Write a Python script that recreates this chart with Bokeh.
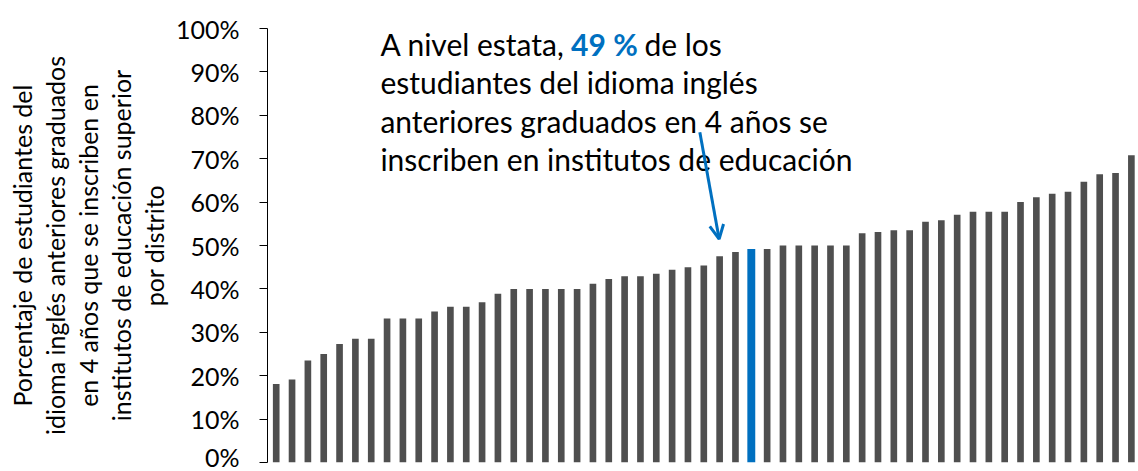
from bokeh.plotting import figure
from bokeh.models import Label, Arrow, OpenHead, FixedTicker, Range1d
from bokeh.embed import file_html
from bokeh.resources import INLINE

# Data (percent of former EL 4-year graduates enrolling, per district, sorted)
districts = list(range(55))
values = [18.1, 19.1, 23.5, 25.0, 27.3, 28.5, 28.5, 33.2, 33.2, 33.2,
          34.8, 35.9, 35.9, 36.9, 38.9, 40.0, 40.0, 40.0, 40.0, 40.0,
          41.2, 42.3, 42.9, 42.9, 43.5, 44.4, 45.0, 45.4, 47.5, 48.5,
          49.2, 49.2, 50.0, 50.0, 50.0, 50.0, 50.0, 52.8, 53.1, 53.5,
          53.5, 55.5, 55.8, 57.1, 57.8, 57.8, 57.8, 60.0, 61.1, 61.9,
          62.4, 64.7, 66.4, 66.7, 70.8]
state_index = 30
state_value = 49
y_ticks = [0, 10, 20, 30, 40, 50, 60, 70, 80, 90, 100]
y_tick_labels = {t: f"{t}%" for t in y_ticks}

GRAY = "#4F4F4F"
BLUE = "#0070C0"
FONT = "Lato"

p = figure(width=1138, height=471, output_backend="svg", toolbar_location=None,
           x_range=Range1d(-0.55, 54.45), y_range=Range1d(0, 100),
           min_border_left=267, min_border_right=0, min_border_top=28,
           min_border_bottom=9)
p.outline_line_color = None
p.xgrid.visible = False
p.ygrid.visible = False
p.xaxis.visible = False

gray_x = [d for d in districts if d != state_index]
gray_top = [v for d, v in zip(districts, values) if d != state_index]
p.vbar(x=gray_x, top=gray_top, bottom=0, width=0.42, color=GRAY, line_color=None)
p.vbar(x=[state_index], top=[values[state_index]], bottom=0, width=0.5,
       color=BLUE, line_color=None)

ya = p.yaxis[0]
ya.ticker = FixedTicker(ticks=y_ticks)
ya.major_label_overrides = y_tick_labels
ya.minor_tick_line_color = None
ya.major_tick_in = 0
ya.major_tick_out = 8
ya.axis_line_color = "black"
ya.major_tick_line_color = "black"
ya.major_label_text_font = FONT
ya.major_label_text_font_size = "25px"
ya.major_label_text_color = "black"
ya.major_label_standoff = 20
ya.axis_label = ("Porcentaje de estudiantes del\nidioma inglés anteriores graduados\n"
                 "en 4 años que se inscriben en\ninstitutos de educación superior\npor distrito")
ya.axis_label_text_font = FONT
ya.axis_label_text_font_size = "25px"
ya.axis_label_text_font_style = "normal"
ya.axis_label_text_color = "black"
ya.axis_label_standoff = 4
ya.axis_label_text_align = "center"
ya.axis_label_text_line_height = 1.1

# Annotation text
FS = "30px"
tx = 6.58
line_y = [96.5, 87.7, 78.8, 70.0]
lines = ["A nivel estata, ",
         "estudiantes del idioma inglés",
         "anteriores graduados en 4 años se",
         "inscriben en institutos de educación"]
for ly, t in zip(line_y, lines):
    p.add_layout(Label(x=tx, y=ly, text=t, text_font=FONT, text_font_size=FS,
                       text_color="black", text_baseline="alphabetic"))
p.add_layout(Label(x=tx, y=line_y[0], x_offset=190.7, text=f"{state_value} %",
                   text_font=FONT, text_font_size=FS, text_font_style="bold",
                   text_color=BLUE, text_baseline="alphabetic"))
p.add_layout(Label(x=tx, y=line_y[0], x_offset=264, text="de los",
                   text_font=FONT, text_font_size=FS,
                   text_color="black", text_baseline="alphabetic"))

p.add_layout(Arrow(end=OpenHead(line_color=BLUE, line_width=3, size=14),
                   x_start=26.75, y_start=76.1, x_end=27.97, y_end=51.5,
                   line_color=BLUE, line_width=3))

open("out.html", "w").write(file_html(p, INLINE))
